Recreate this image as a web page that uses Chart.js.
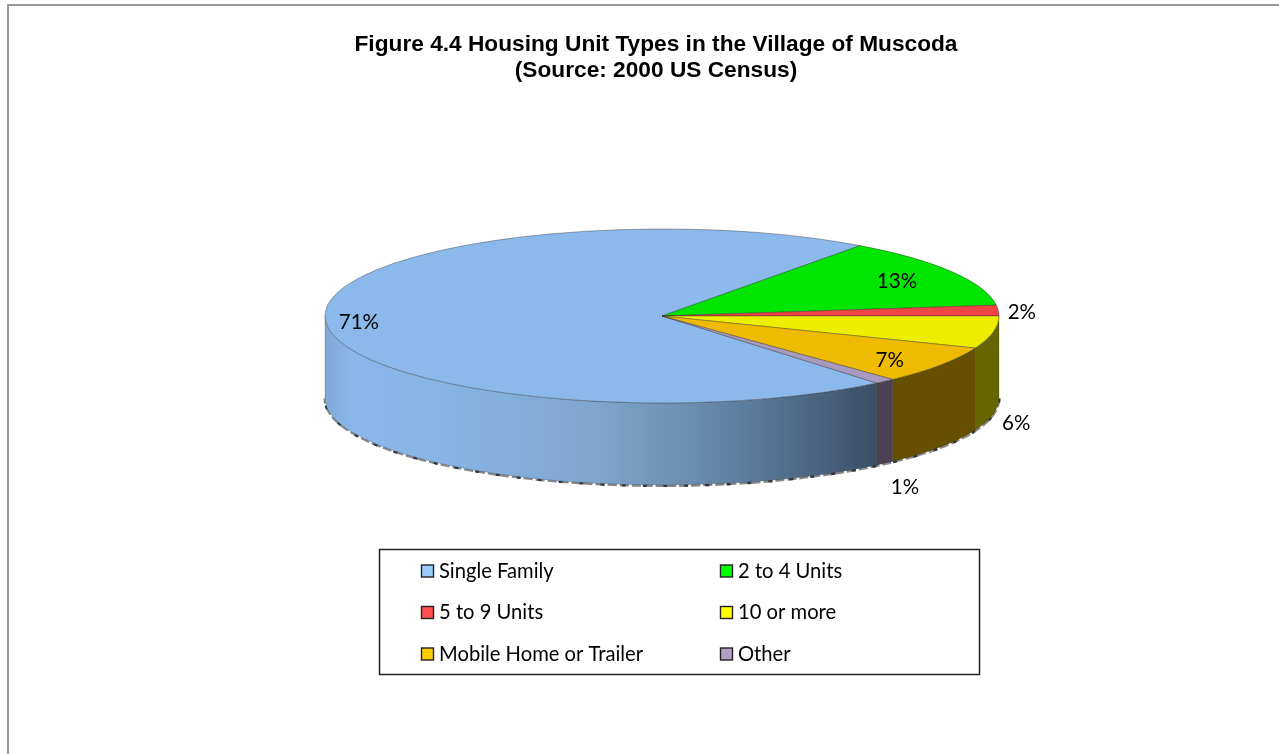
<!DOCTYPE html>
<html>
<head>
<meta charset="utf-8">
<title>Housing Unit Types</title>
<script src="https://cdn.jsdelivr.net/npm/chart.js@4"></script>
<style>
	html, body { margin: 0; padding: 0; background: #fff; overflow: hidden; }
	canvas { display: block; }
</style>
</head>
<body>
<canvas id="myChart" width="1279" height="754"></canvas>
<script>
// values (percent of housing units)
const categories = ["Single Family", "2 to 4 Units", "5 to 9 Units", "10 or more", "Mobile Home or Trailer", "Other"];
const shares = [71, 13, 2, 6, 7, 1];
const titleLines = ["Figure 4.4 Housing Unit Types in the Village of Muscoda", "(Source: 2000 US Census)"];

// colours: top face, side wall, legend swatch
const topColors = ["#8cb9ec", "#00e600", "#ee4444", "#eeee00", "#eebb00", "#a899be"];
const wallColors = ["#8cb9ec", "#006600", "#6a1e1e", "#666600", "#665000", "#4b4152"];
const swatchColors = ["#99ccff", "#00ff00", "#ff5050", "#ffff00", "#ffcc00", "#b1a0c7"];

// the pie is drawn round by the library, then squashed on to this ellipse
const pie = { x: 662, y: 316, radius: 337, ry: 87, depth: 82 };

// where each percent sits: fraction of the radius, then extra drop below the top face
const labelRadius = [0.9, 0.81, 1.07, 1.07, 0.817, 1.09];
const labelDrop = [4, 1, 2, 90, 4, 100];

const labelFont = "20.5px Lato";

function drawWall(ctx, arc, color, cx, cy) {
	const rx = pie.radius, ry = pie.ry;
	for (let k = -1; k <= 1; k++) {
		const lo = Math.max(arc.startAngle + k * 2 * Math.PI, 0);
		const hi = Math.min(arc.endAngle + k * 2 * Math.PI, Math.PI);
		if (hi <= lo) continue;
		ctx.beginPath();
		ctx.ellipse(cx, cy, rx, ry, 0, lo, hi);
		ctx.ellipse(cx, cy + pie.depth, rx, ry, 0, hi, lo, true);
		ctx.closePath();
		ctx.fillStyle = color;
		ctx.fill();
		ctx.strokeStyle = "rgba(30,30,30,0.22)";
		ctx.lineWidth = 1;
		ctx.stroke();
	}
}

const squashPlugin = {
	id: "squash",
	beforeDraw(chart) {
		// grey page frame, top and left only
		const ctx = chart.ctx;
		ctx.save();
		ctx.strokeStyle = "#999999";
		ctx.lineWidth = 2;
		ctx.beginPath();
		ctx.moveTo(8, 754);
		ctx.lineTo(8, 5);
		ctx.lineTo(1279, 5);
		ctx.stroke();
		ctx.restore();
	},
	beforeDatasetsDraw(chart) {
		const ctx = chart.ctx;
		const arcs = chart.getDatasetMeta(0).data;

		// side gradient for the big slice: light on the left, dark at the front
		const grad = ctx.createLinearGradient(pie.x - pie.radius, 0, 878, 0);
		grad.addColorStop(0, "#7fa9d8");
		grad.addColorStop(0.05, "#8ab7ea");
		grad.addColorStop(0.2, "#88b5e6");
		grad.addColorStop(0.5, "#7fa5cd");
		grad.addColorStop(0.75, "#5f7f9f");
		grad.addColorStop(1, "#3a4e66");

		ctx.save();
		// rough shadow under the wall, grey blocks with darker flecks
		ctx.beginPath();
		ctx.ellipse(pie.x, pie.y + pie.depth + 0.5, pie.radius, pie.ry, 0, 0, Math.PI);
		ctx.setLineDash([9, 3]);
		ctx.strokeStyle = "#8a8a8a";
		ctx.lineWidth = 3;
		ctx.stroke();
		ctx.setLineDash([4, 17]);
		ctx.strokeStyle = "#2e3440";
		ctx.stroke();
		ctx.setLineDash([]);

		arcs.forEach((arc, i) => {
			drawWall(ctx, arc, i === 0 ? grad : wallColors[i], pie.x, pie.y);
		});
		ctx.restore();

		ctx.save();
		ctx.translate(pie.x, pie.y);
		ctx.scale(1, pie.ry / pie.radius);
		ctx.translate(-arcs[0].x, -arcs[0].y);
	},
	afterDatasetsDraw(chart) {
		const ctx = chart.ctx;
		ctx.restore();

		// percent labels
		const arcs = chart.getDatasetMeta(0).data;
		ctx.save();
		ctx.font = labelFont;
		ctx.fillStyle = "#000";
		ctx.textAlign = "center";
		ctx.textBaseline = "middle";
		arcs.forEach((arc, i) => {
			const mid = (arc.startAngle + arc.endAngle) / 2;
			const x = pie.x + pie.radius * labelRadius[i] * Math.cos(mid);
			const y = pie.y + pie.ry * labelRadius[i] * Math.sin(mid) + labelDrop[i];
			ctx.fillText(shares[i] + "%", x, y);
		});
		ctx.restore();
	},
	afterDraw(chart) {
		// legend box, two columns by three rows
		const ctx = chart.ctx;
		ctx.save();
		ctx.strokeStyle = "#222";
		ctx.lineWidth = 1.5;
		ctx.strokeRect(379.5, 549.5, 600, 125);
		ctx.font = "20.2px Lato";
		ctx.textBaseline = "middle";
		ctx.textAlign = "left";
		categories.forEach((name, i) => {
			const col = i % 2, row = Math.floor(i / 2);
			const x = 421.5 + col * 299;
			const y = 571 + row * 41.5;
			ctx.fillStyle = swatchColors[i];
			ctx.fillRect(x, y - 6, 12, 12);
			ctx.strokeStyle = "#222";
			ctx.lineWidth = 1.4;
			ctx.strokeRect(x, y - 6, 12, 12);
			ctx.fillStyle = "#000";
			ctx.fillText(name, x + 17.5, y);
		});
		ctx.restore();
	}
};

var ctx = document.getElementById("myChart").getContext("2d");
var myChart = new Chart(ctx, {
	type: "pie",
	data: {
		labels: categories,
		datasets: [{
			data: shares,
			backgroundColor: topColors,
			borderColor: "rgba(40,40,40,0.6)",
			borderWidth: 1,
			clip: false
		}]
	},
	options: {
		responsive: false,
		animation: false,
		radius: pie.radius,
		rotation: -219.6,
		layout: { padding: { left: 33, top: 32 } },
		plugins: {
			legend: { display: false },
			tooltip: { enabled: false },
			title: {
				display: true,
				fullSize: false,
				text: titleLines,
				color: "#000",
				padding: 0,
				font: { family: "'Liberation Sans'", size: 22.7, weight: "bold", lineHeight: 1.145 }
			}
		}
	},
	plugins: [squashPlugin]
});
</script>
</body>
</html>
